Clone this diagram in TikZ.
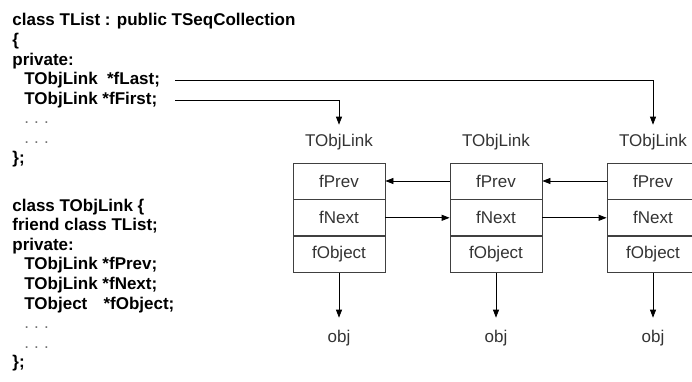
\documentclass[tikz,border=0pt]{standalone}
\usepackage{fontspec}
\setmainfont{Liberation Sans}
\usetikzlibrary{positioning, arrows.meta}

\newcommand{\codedots}{{\mdseries\color{black!55}.\hspace{0.3em}.\hspace{0.3em}.}}

\begin{document}
\begin{tikzpicture}[
                    x=1pt, y=-1pt,
                    font=\fontsize{17pt}{20pt}\selectfont,
                    >={Triangle[length=8pt,width=6pt]},
                    line width=0.8pt,
                    code/.style={anchor=base west, inner sep=0pt, font=\fontsize{17pt}{20pt}\selectfont\bfseries},
                    lbl/.style={inner sep=2pt, text=black!80},
                    cell/.style={draw=black!75, minimum width=92pt, minimum height=36pt, inner sep=0pt, text=black!80}
                ]
                    \clip (0,0) rectangle (692,382);
                    % class TList
                    \foreach \x/\txt [count=\i] in {12/class TList : public TSeqCollection, 12/\{, 12/private:,
                        24/TObjLink\hspace{0.55em}*fLast;, 24/TObjLink *fFirst;, 24/\codedots, 24/\codedots, 12/\};}
                        \node[code] (c\i) at (\x,26+19.6*\i-19.6) {\txt};
                    % class TObjLink
                    \foreach \x/\txt [count=\i] in {12/class TObjLink \{, 12/friend class TList;, 12/private:,
                        24/TObjLink *fPrev;, 24/TObjLink *fNext;, 24/TObject\hspace{0.95em}*fObject;, 24/\codedots, 24/\codedots, 12/\};}
                        \node[code] (d\i) at (\x,211+19.6*\i-19.6) {\txt};
                    % the links
                    \foreach \i/\x in {1/339, 2/496, 3/653} {
                        \node[lbl] (t\i) at (\x,142) {TObjLink};
                        \node[cell] (p\i) at (\x,181) {fPrev};
                        \node[cell, below=0pt of p\i] (n\i) {fNext};
                        \node[cell, below=0pt of n\i] (o\i) {fObject};
                        \node[lbl] (obj\i) at (\x,338) {obj};
                        \draw[->, shorten >=10pt] (o\i) -- (obj\i);
                    }
                    \draw[->] (p2.west) -- (p1.east);
                    \draw[->] (p3.west) -- (p2.east);
                    \draw[->] (n1.east) -- (n2.west);
                    \draw[->] (n2.east) -- (n3.west);
                    % head and tail
                    \coordinate (start) at (175,0);
                    \draw[->, shorten >=7pt] (start |- c4.east) -| (t3);
                    \draw[->, shorten >=7pt] (start |- c5.east) -| (t1);
                \end{tikzpicture}
\end{document}
